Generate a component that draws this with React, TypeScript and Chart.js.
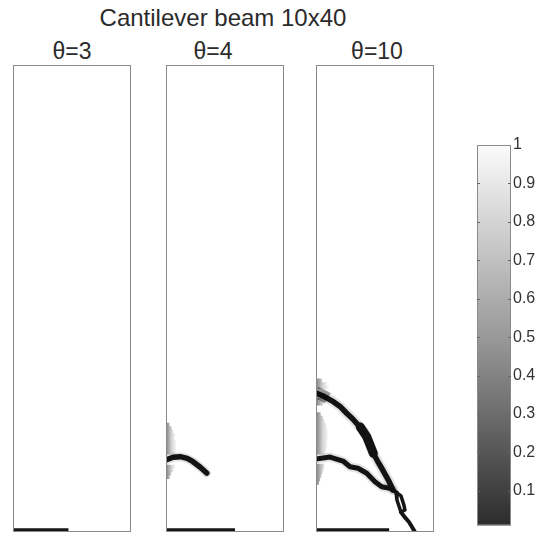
import React, { useEffect, useRef } from 'react';
import { Chart, registerables } from 'chart.js';

Chart.register(...registerables);

// ---------- data ----------
const X_MAX = 10;
const Y_MAX = 40;
const mainTitle = 'Cantilever beam 10x40';
const panelTitles = ['θ=3', 'θ=4', 'θ=10'];

// crack along the clamped bottom edge (x from 0 to end)
const bottomCrackEnd = [4.7, 5.85, 6.2];
const bottomCrackY = 0.17;

// θ=4 : crack growing from the left edge
const crack4X = [0, 0.6, 1.19, 1.8, 2.29, 2.88, 3.45];
const crack4Y = [6.17, 6.4, 6.45, 6.3, 6.02, 5.57, 5.05];

// θ=4 : diffuse damage at the left edge
const fuzz4Y = [9.2, 8.9, 8.6, 8.3, 8.0, 7.7, 7.4, 7.1, 6.8, 5.6, 5.3, 5.0, 4.7];
const fuzz4Len = [0.3, 0.5, 0.6, 0.75, 0.7, 0.85, 0.8, 0.9, 0.8, 0.75, 0.6, 0.45, 0.3];

// θ=10 : upper crack
const upperX = [0, 0.7, 1.47, 2.1, 2.6, 3.1, 3.58, 4.0, 4.3, 4.6, 4.86, 5.2, 5.57, 6.13, 6.53];
const upperY = [11.9, 11.6, 11.16, 10.7, 10.17, 9.7, 9.16, 8.7, 8.16, 7.4, 6.74, 6.1, 5.46, 4.45, 3.6];
// θ=10 : thick part of upper crack
const upperThickX = [3.75, 4.3, 4.6, 4.86];
const upperThickY = [9.0, 8.16, 7.4, 6.74];
// θ=10 : wide start of upper crack at the left edge
const upperStartX = [0, 0.5, 1.0];
const upperStartY = [11.95, 11.75, 11.45];

// θ=10 : lower crack
const lowerX = [0, 1.19, 2.29, 2.88, 3.56, 4.3, 5.0, 5.57, 6.27, 6.53];
const lowerY = [6.25, 6.42, 6.08, 5.59, 5.46, 5.03, 4.31, 3.88, 3.74, 3.6];

// θ=10 : small loop after the junction, and tail to the bottom
const loopLeftX = [6.53, 6.78, 6.86, 7.2];
const loopLeftY = [3.6, 3.4, 2.74, 1.71];
const loopRightX = [6.53, 7.2, 7.45, 7.54, 7.2];
const loopRightY = [3.6, 3.1, 2.3, 1.88, 1.71];
const tailX = [7.2, 7.5, 7.88, 8.39];
const tailY = [1.71, 1.3, 0.86, 0];

// θ=10 : diffuse damage at the left edge
const fuzz10Y = [13.0, 12.7, 12.4, 11.3, 11.0, 10.1, 9.8, 9.5, 9.2, 8.9, 8.6, 8.3, 8.0, 7.7, 7.4, 7.1, 6.8, 5.7, 5.4, 5.1, 4.8, 4.5, 4.2];
const fuzz10Len = [0.5, 0.9, 1.1, 1.0, 0.6, 0.4, 0.6, 0.7, 0.85, 0.9, 1.0, 0.95, 1.0, 0.9, 0.95, 0.85, 0.8, 0.7, 0.65, 0.55, 0.45, 0.35, 0.25];

// colorbar
const cbMin = 0.01;
const cbMax = 1;
const cbTicks = [0.1, 0.2, 0.3, 0.4, 0.5, 0.6, 0.7, 0.8, 0.9, 1];

// ---------- helpers ----------
const CORE = '#161616';
const HALO = 'rgba(0,0,0,0.11)';
const FONT = "'Liberation Sans', Arial, Helvetica, sans-serif";

const pts = (xs: number[], ys: number[]) => xs.map((x, i) => ({ x, y: ys[i] }));

const lineDs = (data: any[], color: any, width: number, cap = 'round') => ({
  data,
  borderColor: color,
  borderWidth: width,
  pointRadius: 0,
  showLine: true,
  fill: false,
  tension: 0,
  borderCapStyle: cap,
  borderJoinStyle: 'round',
  spanGaps: false,
});

const streaks = (ys: number[], lens: number[]) => {
  const out: any[] = [];
  ys.forEach((y, i) => {
    out.push({ x: 0, y });
    out.push({ x: lens[i], y });
    out.push({ x: lens[i], y: null });
  });
  return out;
};

const fadeColor = (fadeLen: number) => (ctx: any) => {
  const chart = ctx.chart;
  if (!chart.chartArea || !chart.scales.x) return 'rgba(0,0,0,0.25)';
  const x0 = chart.scales.x.getPixelForValue(0);
  const x1 = chart.scales.x.getPixelForValue(fadeLen);
  const g = chart.ctx.createLinearGradient(x0, 0, x1, 0);
  g.addColorStop(0, 'rgba(0,0,0,0.5)');
  g.addColorStop(0.5, 'rgba(0,0,0,0.15)');
  g.addColorStop(1, 'rgba(0,0,0,0)');
  return g;
};

const bottomCrack = (end: number) =>
  lineDs(pts([0, end], [bottomCrackY, bottomCrackY]), CORE, 3.5, 'butt');

const panelDatasets = [
  [bottomCrack(bottomCrackEnd[0])],
  [
    lineDs(streaks(fuzz4Y, fuzz4Len), fadeColor(1.0), 3.6, 'butt'),
    lineDs(pts(crack4X, crack4Y), HALO, 9),
    lineDs(pts(crack4X, crack4Y), CORE, 5.5),
    bottomCrack(bottomCrackEnd[1]),
  ],
  [
    lineDs(streaks(fuzz10Y, fuzz10Len), fadeColor(1.2), 3.6, 'butt'),
    lineDs(pts(upperX, upperY), HALO, 10),
    lineDs(pts(lowerX, lowerY), HALO, 9),
    lineDs(pts(upperStartX, upperStartY), 'rgba(0,0,0,0.35)', 12, 'butt'),
    lineDs(pts(upperX, upperY), CORE, 5.5),
    lineDs(pts(upperThickX, upperThickY), CORE, 9),
    lineDs(pts(lowerX, lowerY), CORE, 5),
    lineDs(pts(loopLeftX, loopLeftY), CORE, 3.5),
    lineDs(pts(loopRightX, loopRightY), CORE, 3.5),
    lineDs(pts(tailX, tailY), CORE, 4),
    bottomCrack(bottomCrackEnd[2]),
  ],
];

const framePlugin = {
  id: 'frame',
  afterDraw(chart: any) {
    const { ctx, chartArea } = chart;
    const { left, top, right, bottom } = chartArea;
    ctx.save();
    ctx.strokeStyle = '#8a8a8a';
    ctx.lineWidth = 1;
    ctx.strokeRect(left + 0.5, top + 0.5, right - left - 1, bottom - top - 1);
    ctx.restore();
  },
};

const cbTickPlugin = {
  id: 'cbTicks',
  afterDraw(chart: any) {
    const { ctx, chartArea } = chart;
    const ys = chart.scales.y;
    ctx.save();
    ctx.strokeStyle = '#666';
    ctx.lineWidth = 1;
    cbTicks.forEach((v) => {
      if (v >= cbMax) return;
      const py = Math.round(ys.getPixelForValue(v)) + 0.5;
      ctx.beginPath();
      ctx.moveTo(chartArea.left, py);
      ctx.lineTo(chartArea.left + 3, py);
      ctx.moveTo(chartArea.right - 3, py);
      ctx.lineTo(chartArea.right, py);
      ctx.stroke();
    });
    ctx.restore();
  },
};

const PANEL_W = 118;
const PANEL_H = 467;
const PANEL_TOP = 65;
const panelLefts = [13, 166, 316];
const titleCenters = [72, 213, 377];

function Panel({ idx }: { idx: number }) {
  const ref = useRef<HTMLCanvasElement | null>(null);
  useEffect(() => {
    if (!ref.current) return;
    const chart = new Chart(ref.current, {
      type: 'scatter',
      data: { datasets: panelDatasets[idx] as any },
      options: {
        animation: false,
        responsive: false,
        maintainAspectRatio: false,
        events: [],
        layout: { padding: 0 },
        plugins: { legend: { display: false }, tooltip: { enabled: false } },
        scales: {
          x: { type: 'linear', min: 0, max: X_MAX, display: false },
          y: { type: 'linear', min: 0, max: Y_MAX, display: false },
        },
      },
      plugins: [framePlugin],
    });
    return () => chart.destroy();
  }, [idx]);
  return (
    <canvas
      ref={ref}
      width={PANEL_W}
      height={PANEL_H}
      style={{ position: 'absolute', left: panelLefts[idx], top: PANEL_TOP, width: PANEL_W, height: PANEL_H }}
    />
  );
}

function ColorBar() {
  const ref = useRef<HTMLCanvasElement | null>(null);
  useEffect(() => {
    if (!ref.current) return;
    const chart = new Chart(ref.current, {
      type: 'bar',
      data: {
        labels: ['damage'],
        datasets: [
          {
            data: [[cbMin, cbMax]] as any,
            barPercentage: 1,
            categoryPercentage: 1,
            borderWidth: 0,
            backgroundColor: (ctx: any) => {
              const chart = ctx.chart;
              if (!chart.chartArea) return '#888';
              const { top, bottom } = chart.chartArea;
              const g = chart.ctx.createLinearGradient(0, bottom, 0, top);
              g.addColorStop(0, '#2c2c2c');
              g.addColorStop(0.5, '#9a9a9a');
              g.addColorStop(1, '#fbfbfb');
              return g;
            },
          },
        ],
      },
      options: {
        animation: false,
        responsive: false,
        maintainAspectRatio: false,
        events: [],
        layout: { padding: { top: 15, bottom: 5, left: 0, right: 0 } },
        plugins: { legend: { display: false }, tooltip: { enabled: false } },
        scales: {
          x: { display: false },
          y: {
            position: 'right',
            min: cbMin,
            max: cbMax,
            grid: { display: false, drawTicks: false, tickLength: 0 },
            border: { display: false },
            afterBuildTicks: (axis: any) => {
              axis.ticks = cbTicks.map((v) => ({ value: v }));
            },
            afterFit: (axis: any) => {
              axis.width = 28;
            },
            ticks: {
              padding: 2,
              color: '#333',
              font: { family: FONT, size: 16 },
              callback: (v: any) => String(Math.round(Number(v) * 10) / 10),
            },
          },
        },
      },
      plugins: [framePlugin, cbTickPlugin],
    });
    return () => chart.destroy();
  }, []);
  return (
    <canvas
      ref={ref}
      width={62}
      height={407}
      style={{ position: 'absolute', left: 477, top: 130, width: 62, height: 407 }}
    />
  );
}

export default function App() {
  return (
    <div
      style={{
        position: 'absolute',
        left: 0,
        top: 0,
        width: 539,
        height: 537,
        background: '#ffffff',
        fontFamily: FONT,
        color: '#2b2b2b',
        overflow: 'hidden',
      }}
    >
      <div
        style={{
          position: 'absolute',
          left: 223 - 200,
          width: 400,
          top: 6,
          fontSize: 24,
          lineHeight: '24px',
          textAlign: 'center',
          whiteSpace: 'nowrap',
        }}
      >
        {mainTitle}
      </div>
      {panelTitles.map((t, i) => (
        <div
          key={t}
          style={{
            position: 'absolute',
            left: titleCenters[i] - 60,
            width: 120,
            top: 40,
            fontSize: 23,
            lineHeight: '23px',
            textAlign: 'center',
            whiteSpace: 'nowrap',
          }}
        >
          {t}
        </div>
      ))}
      {panelTitles.map((t, i) => (
        <Panel key={'p' + i} idx={i} />
      ))}
      <ColorBar />
    </div>
  );
}
